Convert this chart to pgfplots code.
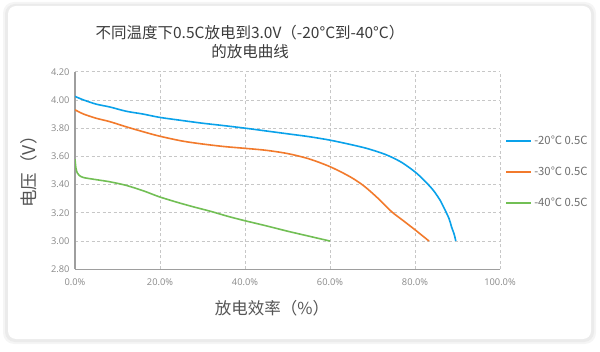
\documentclass[border=0pt]{standalone}
\usepackage{fontspec}
\setmainfont{Noto Sans CJK SC}
\newfontfamily\ticksf{Open Sans}
\usepackage{pgfplots}
\pgfplotsset{compat=1.18}
\definecolor{cblue}{HTML}{0AA2EA}
\definecolor{corange}{HTML}{F27A2C}
\definecolor{cgreen}{HTML}{72BF55}
\definecolor{titlec}{HTML}{3C3C3C}
\definecolor{labelc}{HTML}{555555}
\definecolor{tickc}{HTML}{8A8A8A}
\definecolor{legc}{HTML}{6E6E6E}
\begin{document}
\begin{tikzpicture}
\useasboundingbox (0pt,0pt) rectangle (600pt,351pt);
\fill[black!4, rounded corners=11pt] (3pt,7pt) rectangle (596pt,349pt);
\fill[black!8, rounded corners=10pt] (5pt,9pt) rectangle (594pt,347pt);
\fill[white, rounded corners=8pt] (8pt,12pt) rectangle (591pt,345pt);
\node[text=titlec, align=center, font=\fontsize{15.5}{18.5}\selectfont] at (250pt,309pt) {不同温度下0.5C放电到3.0V（-20°C到-40°C）\\的放电曲线};
\node[rotate=90, text=labelc, font=\fontsize{17.5}{17.5}\selectfont] at (29pt,183.5pt) {电压（V）};
\node[text=labelc, font=\fontsize{16.5}{16.5}\selectfont] at (272pt,43pt) {放电效率（\%）};
\begin{axis}[
  at={(75pt,81.7pt)}, anchor=south west, scale only axis,
  width=425pt, height=197.6pt,
  xmin=0, xmax=100, ymin=2.8, ymax=4.2,
  xtick={0,20,40,60,80,100},
  ytick={2.8,3.0,3.2,3.4,3.6,3.8,4.0,4.2},
  /pgf/number format/assume math mode=true,
  xticklabel={\pgfmathprintnumber[fixed,fixed zerofill,precision=1]{\tick}\%},
  yticklabel={\pgfmathprintnumber[fixed,fixed zerofill,precision=2]{\tick}},
  tick label style={font=\ticksf\fontsize{9.3}{10}\selectfont, text=tickc},
  xticklabel style={yshift=-6pt},
  yticklabel style={xshift=-2pt},
  major tick length=0pt,
  axis x line*=bottom, axis y line*=left,
  axis line style={-, draw=black!38, line width=1.4pt},
  grid=major,
  major grid style={dashed, dash pattern=on 3pt off 2.5pt, draw=black!22, line width=0.7pt},
  legend style={at={(1.012,0.494)}, anchor=west, draw=none, fill=none,
    font=\fontsize{11.3}{11.3}\selectfont, text=legc, row sep=17pt,
    inner sep=0pt},
  legend cell align=left,
  legend image code/.code={\draw[#1, line width=2pt] plot coordinates {(0pt,0pt) (12.5pt,0pt) (25pt,0pt)};},
  every axis plot/.append style={line width=1.6pt},
]
\addplot[cblue, smooth, tension=0.5] coordinates {
(0,4.025) (2,4.00) (5,3.97) (8.2,3.95) (12,3.92) (16,3.90) (19.8,3.877)
(25,3.855) (30,3.835) (35,3.818) (40,3.80) (45,3.78) (50,3.76) (55,3.74)
(60,3.715) (65,3.683) (68.6,3.657) (72,3.625) (74.1,3.60) (77,3.555)
(80,3.49) (82,3.435) (84.3,3.36) (86,3.285) (86.7,3.243) (88,3.16)
(88.6,3.10) (89.2,3.05) (89.6,3.00)};
\addlegendentry{-20℃ 0.5C}
\addplot[corange, smooth, tension=0.5] coordinates {
(0,3.93) (2,3.90) (5,3.87) (8.2,3.846) (12,3.81) (16,3.775) (19.8,3.744)
(25,3.71) (29.4,3.69) (35,3.67) (40,3.657) (45,3.643) (50,3.62)
(55,3.583) (60,3.527) (64.7,3.456) (68,3.39) (71.4,3.30) (74.5,3.208)
(77,3.15) (80,3.08) (83.3,3.00)};
\addlegendentry{-30℃ 0.5C}
\addplot[cgreen, smooth, tension=0.4] coordinates {
(0,3.58) (0.2,3.52) (0.5,3.485) (1,3.465) (2,3.45) (5,3.435) (8.2,3.42)
(12,3.395) (16,3.357) (19.8,3.314) (24,3.275) (27.8,3.243) (32,3.21)
(36,3.175) (40,3.144) (45,3.108) (50,3.07) (55,3.035) (60,3.00)};
\addlegendentry{-40℃ 0.5C}
\end{axis}
\end{tikzpicture}
\end{document}
